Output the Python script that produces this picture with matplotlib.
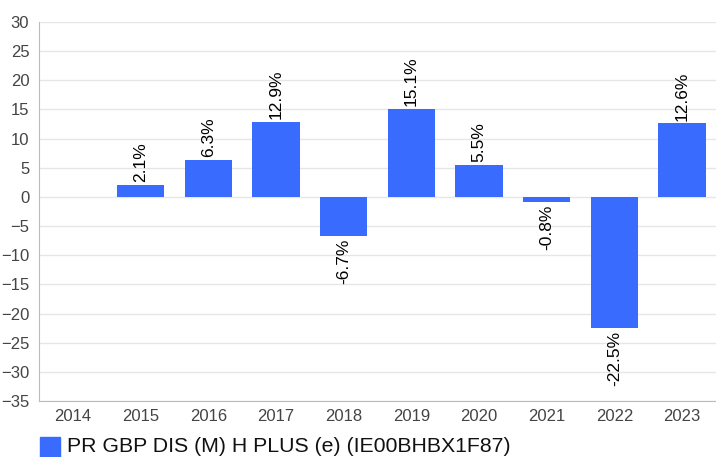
import matplotlib.pyplot as plt
import numpy as np

years = ['2014', '2015', '2016', '2017', '2018', '2019', '2020', '2021', '2022', '2023']
returns = [np.nan, 2.1, 6.3, 12.9, -6.7, 15.1, 5.5, -0.8, -22.5, 12.6]
series_name = 'PR GBP DIS (M) H PLUS (e) (IE00BHBX1F87)'

plt.rcParams['font.family'] = ['Liberation Sans', 'DejaVu Sans']

fig = plt.figure(figsize=(7.16, 4.57), dpi=100)
ax = fig.add_axes([39 / 716, 1 - 401 / 457, 1 - 39 / 716, (401 - 22) / 457])

x = np.arange(len(years))
bars = ax.bar(x, returns, width=0.7, color='#3a6bff', zorder=3)

# value labels, rotated, above positive bars / below negative ones
for xi, v in zip(x, returns):
    if np.isnan(v):
        continue
    if v >= 0:
        ax.text(xi, v + 0.5, f'{v:.1f}%', rotation=90, ha='center', va='bottom', fontsize=12.5)
    else:
        ax.text(xi, v - 0.5, f'{v:.1f}%', rotation=90, ha='center', va='top', fontsize=12.5)

ax.set_xlim(-0.5, len(years) - 0.5)
ax.set_ylim(-35, 30)
ax.set_yticks(np.arange(-35, 31, 5))
ax.set_xticks(x)
ax.set_xticklabels(years)
ax.tick_params(axis='both', length=0, labelsize=12, colors='#444444')
ax.tick_params(axis='y', pad=7)
ax.tick_params(axis='x', pad=6)
ax.grid(axis='y', color='#e6e6e6', linewidth=1, zorder=0)
for s in ['top', 'right']:
    ax.spines[s].set_visible(False)
ax.spines['left'].set_color('#bbbbbb')
ax.spines['bottom'].set_color('#bbbbbb')

fig.patches.append(plt.Rectangle((40 / 716, 0), 20 / 716, 20 / 457, transform=fig.transFigure,
                                 color='#3a6bff'))
fig.text(67 / 716, 10 / 457, series_name, fontsize=15.3, va='center', ha='left', color='#111111')

fig.savefig('out.png', dpi=100)
